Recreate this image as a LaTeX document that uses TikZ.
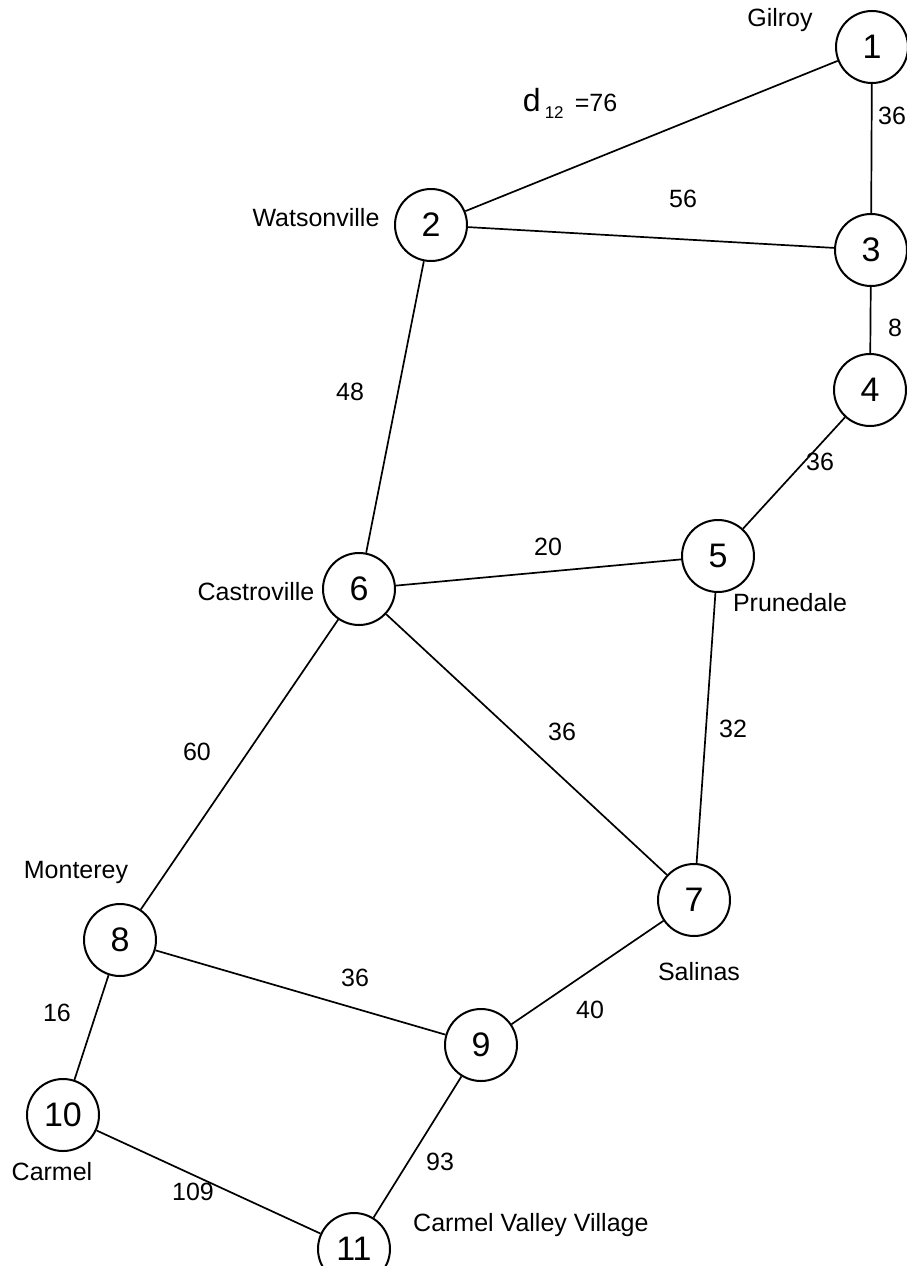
\documentclass[tikz,border=0pt]{standalone}
\usepackage{fontspec}
\setmainfont{Liberation Sans}
\begin{document}
\begin{tikzpicture}[x=1pt,y=-1pt,
  city/.style={circle,draw,line width=2pt,minimum size=72pt,inner sep=0pt,font=\fontsize{34}{38}\selectfont},
  road/.style={line width=1.7pt},
  lbl/.style={font=\fontsize{25}{28}\selectfont,inner sep=0pt},
  wt/.style={font=\fontsize{25}{28}\selectfont,inner sep=0pt}]
\useasboundingbox (0,0) rectangle (906,1266);
\node[city] (n1) at (872,47) {1};
\node[city] (n2) at (431,225) {2};
\node[city] (n3) at (871,250) {3};
\node[city] (n4) at (870,390) {4};
\node[city] (n5) at (718,556) {5};
\node[city] (n6) at (359,589) {6};
\node[city] (n7) at (694,900) {7};
\node[city] (n8) at (120,940) {8};
\node[city] (n9) at (481,1045) {9};
\node[city] (n10) at (63,1115) {10};
\node[city] (n11) at (354,1249) {11};
\draw[road] (n1) -- (n2);
\draw[road] (n1) -- (n3);
\draw[road] (n2) -- (n3);
\draw[road] (n3) -- (n4);
\draw[road] (n2) -- (n6);
\draw[road] (n4) -- (n5);
\draw[road] (n6) -- (n5);
\draw[road] (n5) -- (n7);
\draw[road] (n6) -- (n7);
\draw[road] (n6) -- (n8);
\draw[road] (n8) -- (n9);
\draw[road] (n7) -- (n9);
\draw[road] (n8) -- (n10);
\draw[road] (n10) -- (n11);
\draw[road] (n9) -- (n11);
% city names
\node[lbl] (lgil) at (780,20) {Gilroy};
\node[lbl] (lwat) at (316,218) {Watsonville};
\node[lbl] (lcas) at (256,592) {Castroville};
\node[lbl] (lpru) at (790,603) {Prunedale};
\node[lbl] (lmon) at (76,872) {Monterey};
\node[lbl] (lsal) at (699,972) {Salinas};
\node[lbl] (lcar) at (52,1172) {Carmel};
\node[lbl,anchor=west] (lcvv) at (413,1225) {Carmel Valley Village};
% weights
\node[wt] (w12) at (570,103) {{\fontsize{32}{34}\selectfont d}\,{\fontsize{17}{18}\selectfont\raisebox{-7pt}{12}}\, =76};
\node[wt] (w13) at (892,116) {36};
\node[wt] (w23) at (683,199) {56};
\node[wt] (w34) at (895,328) {8};
\node[wt] (w26) at (350,392) {48};
\node[wt] (w45) at (820,462) {36};
\node[wt] (w65) at (548,547) {20};
\node[wt] (w68) at (197,752) {60};
\node[wt] (w67) at (562,732) {36};
\node[wt] (w57) at (733,729) {32};
\node[wt] (w89) at (355,978) {36};
\node[wt] (w79) at (590,1010) {40};
\node[wt] (w810) at (57,1013) {16};
\node[wt] (w911) at (440,1162) {93};
\node[wt] (w1011) at (193,1192) {109};
\end{tikzpicture}
\end{document}
